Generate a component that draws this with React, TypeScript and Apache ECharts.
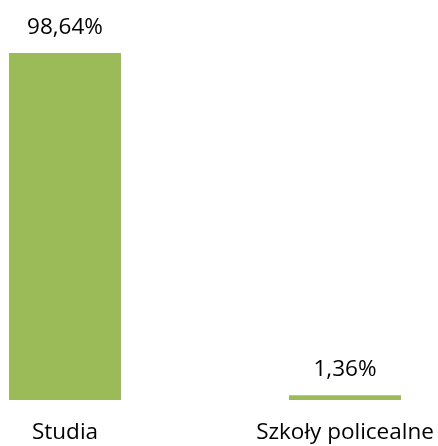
import React, { useEffect, useRef } from "react";
import * as echarts from "echarts";

const categories = ["Studia", "Szkoły policealne"];
const values = [98.64, 1.36];

export default function App() {
  const ref = useRef<HTMLDivElement>(null);
  useEffect(() => {
    if (!ref.current) return;
    const chart = echarts.init(ref.current, undefined, { renderer: "svg" });
    chart.setOption({
      animation: false,
      grid: { left: 0, right: 0, top: 53, bottom: 46, containLabel: false },
      xAxis: {
        type: "category",
        data: categories,
        axisLine: { show: false },
        axisTick: { show: false },
        axisLabel: {
          color: "#000",
          fontFamily: "Open Sans",
          fontSize: 22.5,
          margin: 19,
          interval: 0,
        },
      },
      yAxis: {
        type: "value",
        min: 0,
        max: 98.64,
        show: false,
        splitLine: { show: false },
      },
      series: [
        {
          type: "bar",
          data: values,
          barWidth: 112,
          itemStyle: { color: "#9BBB59" },
          label: {
            show: true,
            position: "top",
            distance: 16,
            color: "#000",
            fontFamily: "Open Sans",
            fontSize: 22.5,
            formatter: (p: any) => p.value.toFixed(2).replace(".", ",") + "%",
          },
        },
      ],
    });
    return () => chart.dispose();
  }, []);
  return (
    <div
      ref={ref}
      style={{ position: "fixed", left: -75, top: 0, width: 560, height: 446 }}
    />
  );
}
